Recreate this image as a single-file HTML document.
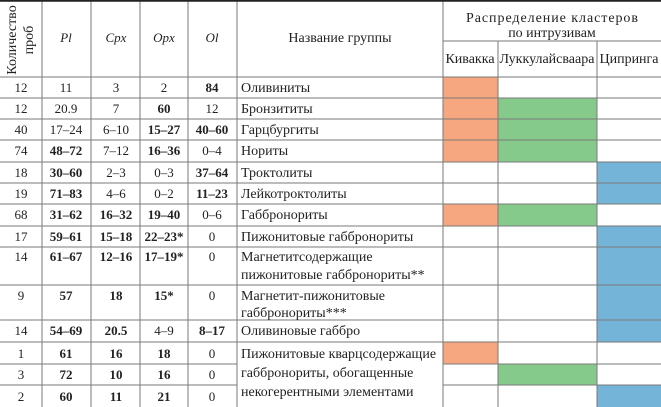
<!DOCTYPE html>
<html><head><meta charset="utf-8"><style>
html,body{margin:0;padding:0;background:#fff;}
svg{display:block;}
text{font-family:"Liberation Serif","DejaVu Serif",serif;font-size:13px;fill:#222;}
.t{font-size:14px;}
.b{font-weight:bold;}
.m{text-anchor:middle;}
.i{font-style:italic;}
</style></head><body>
<svg width="661" height="407" viewBox="0 0 661 407" xmlns="http://www.w3.org/2000/svg">
<g>
<rect x="443" y="77" width="55" height="21" fill="#f7a77f"/>
<rect x="443" y="98" width="55" height="64" fill="#f7a77f"/>
<rect x="498" y="98" width="99" height="64" fill="#86ca8b"/>
<rect x="597" y="162" width="64" height="42" fill="#74b4d8"/>
<rect x="443" y="204" width="55" height="22" fill="#f7a77f"/>
<rect x="498" y="204" width="99" height="22" fill="#86ca8b"/>
<rect x="597" y="226" width="64" height="116" fill="#74b4d8"/>
<rect x="443" y="342" width="55" height="22" fill="#f7a77f"/>
<rect x="498" y="364" width="99" height="21" fill="#86ca8b"/>
<rect x="597" y="385" width="64" height="22" fill="#74b4d8"/>
</g>
<g stroke="#7a7a7a" stroke-width="1">
<line x1="42" y1="0" x2="42" y2="407"/>
<line x1="91" y1="0" x2="91" y2="407"/>
<line x1="140" y1="0" x2="140" y2="407"/>
<line x1="188" y1="0" x2="188" y2="407"/>
<line x1="237" y1="0" x2="237" y2="407"/>
<line x1="443" y1="0" x2="443" y2="407"/>
<line x1="498" y1="41" x2="498" y2="407"/>
<line x1="597" y1="41" x2="597" y2="407"/>
<line x1="443" y1="41" x2="661" y2="41"/>
<line x1="0" y1="77" x2="661" y2="77"/>
<line x1="0" y1="98" x2="661" y2="98"/>
<line x1="0" y1="119" x2="661" y2="119"/>
<line x1="0" y1="140" x2="661" y2="140"/>
<line x1="0" y1="162" x2="661" y2="162"/>
<line x1="0" y1="183" x2="661" y2="183"/>
<line x1="0" y1="204" x2="661" y2="204"/>
<line x1="0" y1="226" x2="661" y2="226"/>
<line x1="0" y1="247" x2="661" y2="247"/>
<line x1="0" y1="285" x2="661" y2="285"/>
<line x1="0" y1="320" x2="661" y2="320"/>
<line x1="0" y1="342" x2="661" y2="342"/>
<line x1="0" y1="364" x2="237" y2="364"/>
<line x1="443" y1="364" x2="661" y2="364"/>
<line x1="0" y1="385" x2="237" y2="385"/>
<line x1="443" y1="385" x2="661" y2="385"/>
</g>
<line x1="0" y1="0.8" x2="661" y2="0.8" stroke="#222" stroke-width="1.8"/>
<text transform="translate(16,40) rotate(-90)" class="m t">Количество</text>
<text transform="translate(33,40) rotate(-90)" class="m t">проб</text>
<text x="66" y="42" class="m i">Pl</text>
<text x="116" y="42" class="m i">Cpx</text>
<text x="164" y="42" class="m i">Opx</text>
<text x="212" y="42" class="m i">Ol</text>
<text x="340" y="42" class="m t">Название группы</text>
<text x="552" y="22" class="m t" textLength="172">Распределение кластеров</text>
<text x="552" y="37" class="m t">по интрузивам</text>
<text x="470" y="63" class="m t">Кивакка</text>
<text x="547" y="63" class="m t">Луккулайсваара</text>
<text x="629" y="63" class="m t">Ципринга</text>
<g>
<text x="21" y="92" class="m">12</text><text x="66" y="92" class="m">11</text><text x="116" y="92" class="m">3</text><text x="164" y="92" class="m">2</text><text x="212" y="92" class="m b">84</text><text x="241" y="92" class="t">Оливиниты</text>
<text x="21" y="113" class="m">12</text><text x="66" y="113" class="m">20.9</text><text x="116" y="113" class="m">7</text><text x="164" y="113" class="m b">60</text><text x="212" y="113" class="m">12</text><text x="241" y="113" class="t">Бронзититы</text>
<text x="21" y="134" class="m">40</text><text x="66" y="134" class="m">17–24</text><text x="116" y="134" class="m">6–10</text><text x="164" y="134" class="m b">15–27</text><text x="212" y="134" class="m b">40–60</text><text x="241" y="134" class="t">Гарцбургиты</text>
<text x="21" y="155" class="m">74</text><text x="66" y="155" class="m b">48–72</text><text x="116" y="155" class="m">7–12</text><text x="164" y="155" class="m b">16–36</text><text x="212" y="155" class="m">0–4</text><text x="241" y="155" class="t">Нориты</text>
<text x="21" y="177" class="m">18</text><text x="66" y="177" class="m b">30–60</text><text x="116" y="177" class="m">2–3</text><text x="164" y="177" class="m">0–3</text><text x="212" y="177" class="m b">37–64</text><text x="241" y="177" class="t">Троктолиты</text>
<text x="21" y="198" class="m">19</text><text x="66" y="198" class="m b">71–83</text><text x="116" y="198" class="m">4–6</text><text x="164" y="198" class="m">0–2</text><text x="212" y="198" class="m b">11–23</text><text x="241" y="198" class="t">Лейкотроктолиты</text>
<text x="21" y="219" class="m">68</text><text x="66" y="219" class="m b">31–62</text><text x="116" y="219" class="m b">16–32</text><text x="164" y="219" class="m b">19–40</text><text x="212" y="219" class="m">0–6</text><text x="241" y="219" class="t">Габбронориты</text>
<text x="21" y="241" class="m">17</text><text x="66" y="241" class="m b">59–61</text><text x="116" y="241" class="m b">15–18</text><text x="164" y="241" class="m b">22–23*</text><text x="212" y="241" class="m">0</text><text x="241" y="241" class="t">Пижонитовые габбронориты</text>
<text x="21" y="261" class="m">14</text><text x="66" y="261" class="m b">61–67</text><text x="116" y="261" class="m b">12–16</text><text x="164" y="261" class="m b">17–19*</text><text x="212" y="261" class="m">0</text><text x="241" y="261" class="t">Магнетитсодержащие</text><text x="241" y="279" class="t">пижонитовые габбронориты**</text>
<text x="21" y="300" class="m">9</text><text x="66" y="300" class="m b">57</text><text x="116" y="300" class="m b">18</text><text x="164" y="300" class="m b">15*</text><text x="212" y="300" class="m">0</text><text x="241" y="300" class="t">Магнетит-пижонитовые</text><text x="241" y="317" class="t">габбронориты***</text>
<text x="21" y="335" class="m">14</text><text x="66" y="335" class="m b">54–69</text><text x="116" y="335" class="m b">20.5</text><text x="164" y="335" class="m">4–9</text><text x="212" y="335" class="m b">8–17</text><text x="241" y="335" class="t">Оливиновые габбро</text>
<text x="21" y="358" class="m">1</text><text x="66" y="358" class="m b">61</text><text x="116" y="358" class="m b">16</text><text x="164" y="358" class="m b">18</text><text x="212" y="358" class="m">0</text>
<text x="21" y="379" class="m">3</text><text x="66" y="379" class="m b">72</text><text x="116" y="379" class="m b">10</text><text x="164" y="379" class="m b">16</text><text x="212" y="379" class="m">0</text>
<text x="21" y="401" class="m">2</text><text x="66" y="401" class="m b">60</text><text x="116" y="401" class="m b">11</text><text x="164" y="401" class="m b">21</text><text x="212" y="401" class="m">0</text>
<text x="241" y="358" class="t">Пижонитовые кварцсодержащие</text>
<text x="241" y="377" class="t">габбронориты, обогащенные</text>
<text x="241" y="396" class="t">некогерентными элементами</text>
</g>
</svg>
</body></html>
